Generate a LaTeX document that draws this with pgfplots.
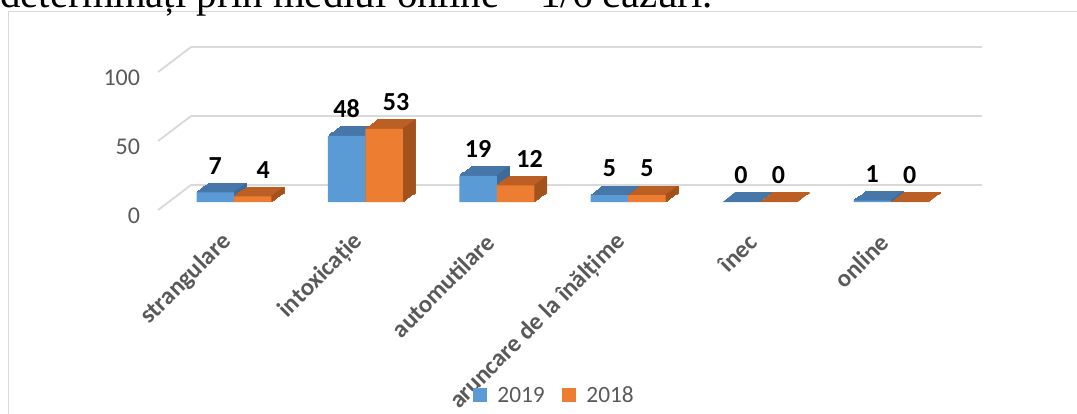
\documentclass[border=0pt]{standalone}
\usepackage{pgfplots}
\usepackage{pgfplotstable}
\pgfplotsset{compat=1.18}
\usepackage{fontspec}
\setmainfont{Carlito}
\newfontfamily\tnr{Liberation Serif}
\definecolor{bfront}{HTML}{5B9BD5}
\definecolor{btop}{HTML}{4677A8}
\definecolor{bside}{HTML}{3D6A96}
\definecolor{ofront}{HTML}{ED7D31}
\definecolor{otop}{HTML}{BC5F24}
\definecolor{oside}{HTML}{A2521D}
\definecolor{gridc}{HTML}{D9D9D9}
\definecolor{txt}{HTML}{595959}

\pgfplotstableread{
x y ls
0 7 0
1 48 0
2 19 0
3 5 0
4 0 0
5 1 0
}\dataA
\pgfplotstableread{
x y ls
0 4 7.9
1 53 9
2 12 10.5
3 5 0
4 0 0
5 0 0
}\dataB

\begin{document}
\begin{tikzpicture}
\begin{axis}[
  x=98.55pt, y=1.035pt,
  xmin=-0.578, xmax=5.693, ymin=-8, ymax=113,
  clip=false,
  axis line style={draw=none},
  tick style={draw=none},
  /pgf/number format/assume math mode=true,
  ytick={0,50,100},
  yticklabel style={font=\fontsize{18}{20}\selectfont, text=txt, xshift=-10pt, yshift=-10.5pt},
  xtick={0,1,2,3,4,5},
  xticklabels={strangulare, intoxicație, automutilare, aruncare de la înălțime, înec, online},
  xticklabel style={xshift=-2.6pt, yshift=-16.5pt, rotate=45, anchor=east, font=\bfseries\fontsize{18.5}{20}\selectfont, text=txt},
  legend style={at={(axis cs:2.44,-140.2)}, anchor=center, draw=none, fill=none,
    legend columns=2, font=\fontsize{17.5}{20}\selectfont, text=txt,
    /tikz/every odd column/.append style={column sep=6pt},
    /tikz/every even column/.append style={column sep=10.8pt}},
]
% frame and top text
\draw[gridc, line width=1.1pt] (axis cs:-1.716,-170) -- (axis cs:-1.716,138.0) -- (axis cs:6.8,138.0);
\node[anchor=base west, inner sep=0pt, font=\tnr\fontsize{30.7}{31}\selectfont] at (axis cs:-1.781,140.9) {determinați prin mediul online – 1/6 cazuri.};
% gridlines (back wall + side)
\addplot[gridc, line width=1.4pt, forget plot] coordinates {(-0.578,-5.8) (-0.327,12.3) (5.693,12.3)};
\addplot[gridc, line width=1.4pt, forget plot] coordinates {(-0.578,44.2) (-0.327,62.3) (5.693,62.3)};
\addplot[gridc, line width=1.4pt, forget plot] coordinates {(-0.578,94.2) (-0.327,112.3) (5.693,112.3)};
% 2019 depth
\pgfplotsinvokeforeach{1,...,10}{
  \addplot[ybar, bar width=28.1pt, bar shift=-14.06pt, xshift=#1*0.9375pt, yshift=#1*0.675pt,
    fill=btop, draw=btop, line width=0.9pt, forget plot] table[x=x,y=y]{\dataA};
}
\pgfplotsinvokeforeach{1,...,10}{
  \addplot[ybar, bar width=1.4pt, bar shift=0pt, xshift=#1*0.9375pt-0.47pt, yshift=#1*0.675pt,
    fill=bside, draw=none, forget plot] table[x=x,y=y]{\dataA};
}
\addplot[ybar, bar width=28.1pt, bar shift=-14.06pt, fill=bfront, draw=none,
  legend image code/.code={\fill[bfront] (0pt,-5.25pt) rectangle (10.5pt,5.25pt);},
  nodes near coords,
  nodes near coords style={font=\bfseries\fontsize{19.5}{21}\selectfont, text=black, inner sep=0pt, anchor=south, yshift=13.5pt, xshift=-14.06pt}
  ] table[x=x,y=y]{\dataA};
\addlegendentry{2019}
% 2018 depth
\pgfplotsinvokeforeach{1,...,10}{
  \addplot[ybar, bar width=28.1pt, bar shift=14.06pt, xshift=#1*0.9375pt, yshift=#1*0.675pt,
    fill=otop, draw=otop, line width=0.9pt, forget plot] table[x=x,y=y]{\dataB};
}
\pgfplotsinvokeforeach{1,...,10}{
  \addplot[ybar, bar width=1.4pt, bar shift=28.12pt, xshift=#1*0.9375pt-0.47pt, yshift=#1*0.675pt,
    fill=oside, draw=none, forget plot] table[x=x,y=y]{\dataB};
}
\addplot[ybar, bar width=28.1pt, bar shift=14.06pt, fill=ofront, draw=none,
  legend image code/.code={\fill[ofront] (0pt,-5.25pt) rectangle (10.5pt,5.25pt);},
  visualization depends on={\thisrow{ls}\as\lshift},
  nodes near coords,
  nodes near coords style={font=\bfseries\fontsize{19.5}{21}\selectfont, text=black, inner sep=0pt, anchor=south, yshift=13.5pt, xshift=14.06pt+\lshift pt}
  ] table[x=x,y=y]{\dataB};
\addlegendentry{2018}
\coordinate (BL) at (axis cs:-1.781,-153.62);
\coordinate (TR) at (axis cs:6.4155,146.38);
\end{axis}
\pgfresetboundingbox
\path[use as bounding box] (BL) rectangle (TR);
\end{tikzpicture}
\end{document}
